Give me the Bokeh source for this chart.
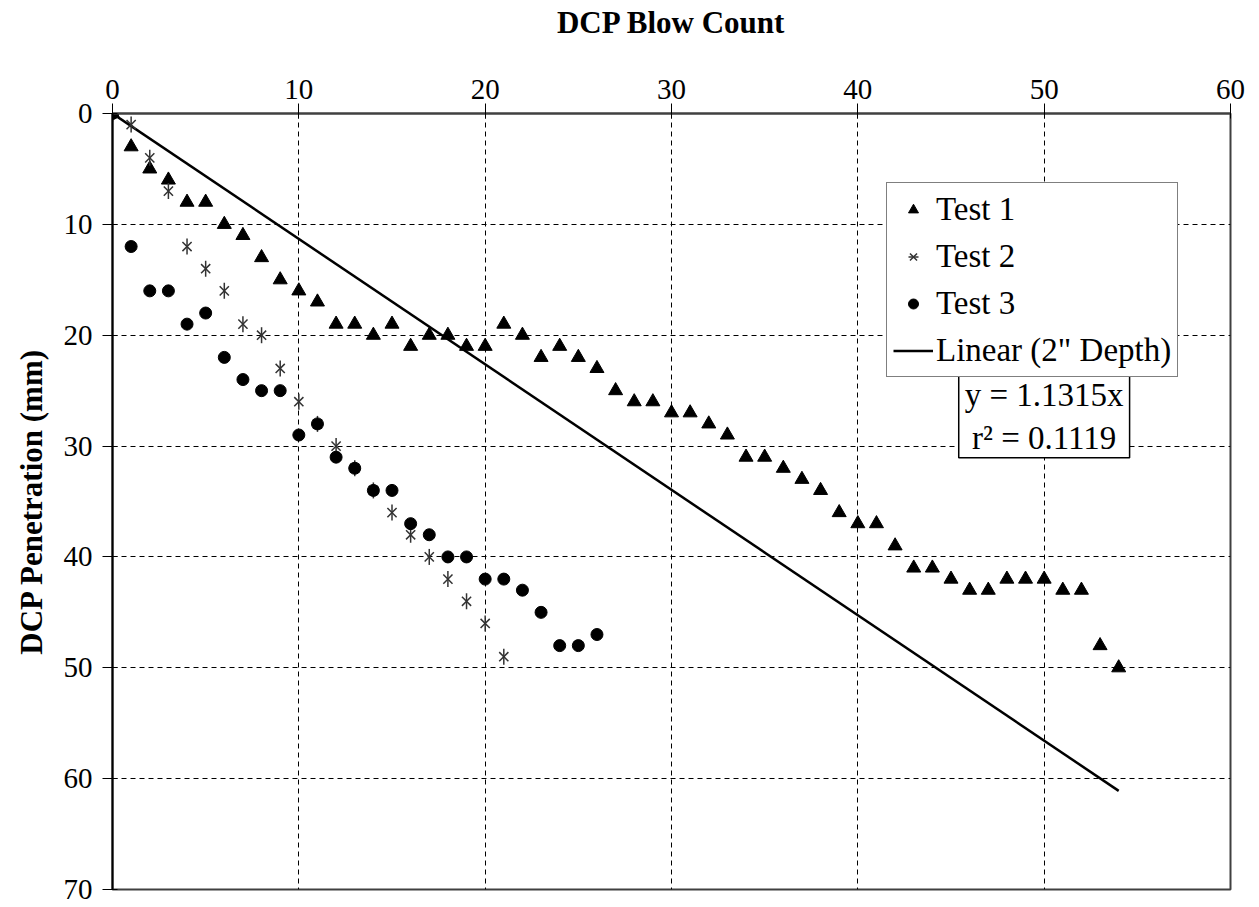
from bokeh.plotting import figure
from bokeh.models import Range1d, FixedTicker, Legend, LegendItem, Label
from bokeh.embed import file_html
from bokeh.resources import INLINE
import math

# ---- data ----
test1_x = [0, 1, 2, 3, 4, 5, 6, 7, 8, 9, 10, 11, 12, 13, 14, 15, 16, 17, 18, 19, 20,
           21, 22, 23, 24, 25, 26, 27, 28, 29, 30, 31, 32, 33, 34, 35, 36, 37, 38, 39,
           40, 41, 42, 43, 44, 45, 46, 47, 48, 49, 50, 51, 52, 53, 54]
test1_y = [0, 3, 5, 6, 8, 8, 10, 11, 13, 15, 16, 17, 19, 19, 20, 19, 21, 20, 20, 21, 21,
           19, 20, 22, 21, 22, 23, 25, 26, 26, 27, 27, 28, 29, 31, 31, 32, 33, 34, 36,
           37, 37, 39, 41, 41, 42, 43, 43, 42, 42, 42, 43, 43, 48, 50]

test2_x = [0, 1, 2, 3, 4, 5, 6, 7, 8, 9, 10, 11, 12, 13, 14, 15, 16, 17, 18, 19, 20, 21]
test2_y = [0, 1, 4, 7, 12, 14, 16, 19, 20, 23, 26, 28, 30, 32, 34, 36, 38, 40, 42, 44, 46, 49]

test3_x = [0, 1, 2, 3, 4, 5, 6, 7, 8, 9, 10, 11, 12, 13, 14, 15, 16, 17, 18, 19, 20,
           21, 22, 23, 24, 25, 26]
test3_y = [0, 12, 16, 16, 19, 18, 22, 24, 25, 25, 29, 28, 31, 32, 34, 34, 37, 38, 40, 40, 42,
           42, 43, 45, 48, 48, 47]

slope = 1.1315
r2 = 0.1119
fit_x = [0, 54]
fit_y = [slope * v for v in fit_x]

x_ticks = [0, 10, 20, 30, 40, 50, 60]
y_ticks = [0, 10, 20, 30, 40, 50, 60, 70]

FONT = "Liberation Serif"

p = figure(frame_width=1118, frame_height=776,
           x_range=Range1d(0, 60), y_range=Range1d(70, 0),
           x_axis_location="above",
           output_backend="svg", toolbar_location=None,
           min_border_left=112, min_border_top=113,
           min_border_right=20, min_border_bottom=18)

p.outline_line_color = "#404040"
p.outline_line_width = 2
p.background_fill_color = "white"
p.border_fill_color = "white"

# axes
for ax, ticks in ((p.xaxis, x_ticks), (p.yaxis, y_ticks)):
    ax.ticker = FixedTicker(ticks=ticks)
    ax.minor_tick_line_color = None
    ax.major_tick_out = 10
    ax.major_tick_in = 5
    ax.major_tick_line_color = "black"
    ax.major_label_text_font = FONT
    ax.major_label_text_font_size = "29px"
    ax.major_label_text_color = "black"
    ax.axis_label_text_font = FONT
    ax.axis_label_text_font_style = "bold"
    ax.axis_label_text_font_size = "31px"
    ax.axis_label_text_color = "black"

p.xaxis.axis_label = "DCP Blow Count"
p.xaxis.axis_line_color = "#404040"
p.xaxis.axis_line_width = 2
p.xaxis.major_label_standoff = 5
p.xaxis.axis_label_standoff = 37
p.yaxis.axis_label = "DCP Penetration (mm)"
p.yaxis.axis_line_color = "black"
p.yaxis.axis_line_width = 2
p.yaxis.major_label_standoff = 10
p.yaxis.axis_label_standoff = 12

# grid
for g in (p.xgrid, p.ygrid):
    g.grid_line_color = "black"
    g.grid_line_dash = "5 4"
    g.grid_line_width = 1

# series
r_fit = p.line(fit_x, fit_y, line_color="black", line_width=2.5)
r1 = p.scatter(test1_x, test1_y, marker="triangle", size=14,
               fill_color="black", line_color="black")
r2x = p.scatter(test2_x, test2_y, marker="x", size=13,
                line_color="#333333", line_width=1.5)
r2v = p.scatter(test2_x, test2_y, marker="dash", size=16, angle=math.pi / 2,
                line_color="#333333", line_width=1.5)
r3 = p.scatter(test3_x, test3_y, marker="circle", size=12,
               fill_color="black", line_color="black")

legend = Legend(items=[
    LegendItem(label="Test 1", renderers=[r1]),
    LegendItem(label="Test 2", renderers=[r2x, r2v]),
    LegendItem(label="Test 3", renderers=[r3]),
    LegendItem(label="Linear (2\" Depth)", renderers=[r_fit]),
], location=(774, 512))
legend.label_text_font = FONT
legend.label_text_font_size = "33px"
legend.label_text_color = "black"
legend.label_height = 40
legend.glyph_height = 25
legend.glyph_width = 40
legend.label_standoff = 3
legend.spacing = 7
legend.padding = 6
legend.margin = 0
legend.border_line_color = "black"
legend.border_line_width = 1.5
legend.background_fill_color = "white"
legend.background_fill_alpha = 1
p.add_layout(legend, "center")

eq = Label(x=50.0, y=27.3, text=f"y = {slope}x\nr\u00b2 = {r2}",
           text_font=FONT, text_font_size="33px", text_color="black",
           text_align="center", text_baseline="middle",
           border_line_color="black", border_line_width=1.5,
           background_fill_color="white", background_fill_alpha=1,
           padding=dict(left=6, right=6, top=2, bottom=2))
p.add_layout(eq)

open("out.html", "w").write(file_html(p, INLINE))
